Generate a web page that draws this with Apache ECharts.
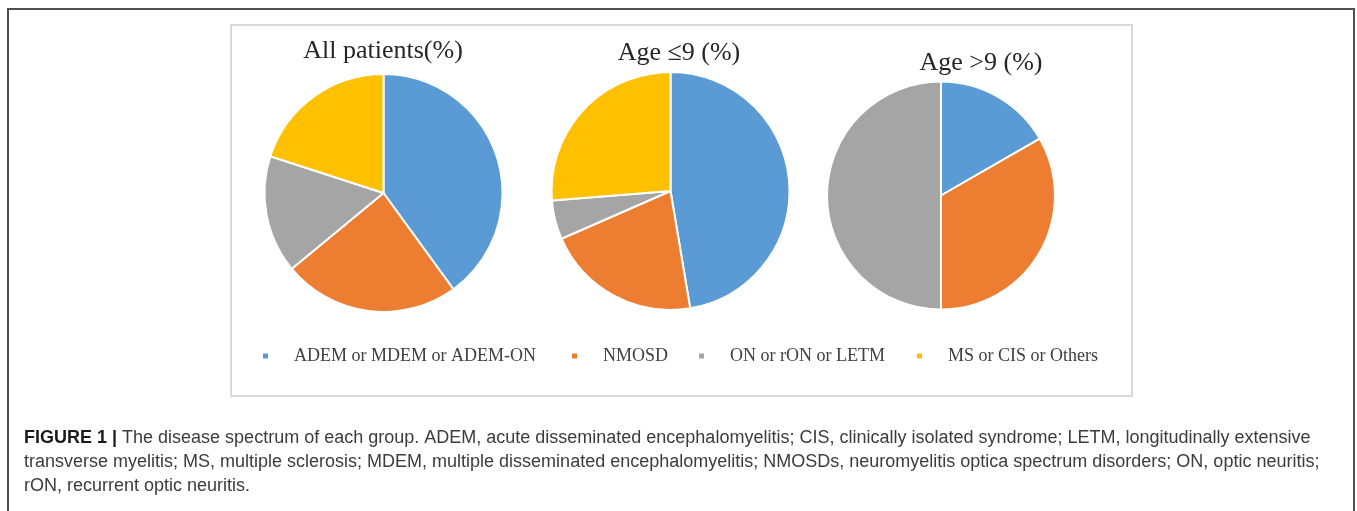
<!DOCTYPE html>
<html>
<head>
<meta charset="utf-8">
<script src="https://cdn.jsdelivr.net/npm/echarts@6/dist/echarts.min.js"></script>
<style>
  html, body { margin: 0; padding: 0; background: #fff; }
  #chart { width: 1357px; height: 511px; }
</style>
</head>
<body>
<div id="chart"></div>
<script>
// Disease categories and the share (%) of each group
const categories = ['ADEM or MDEM or ADEM-ON', 'NMOSD', 'ON or rON or LETM', 'MS or CIS or Others'];
const allPatients = [40.0, 24.0, 16.0, 20.0];
const ageUpTo9 = [47.4, 21.1, 5.3, 26.3];
const ageOver9 = [16.7, 33.3, 50.0, 0];
const groupTitles = ['All patients(%)', 'Age \u22649 (%)', 'Age >9 (%)'];
const palette = ['#5B9BD5', '#ED7D31', '#A5A5A5', '#FFC000'];

const captionLines = [
  '{b|FIGURE 1 |} The disease spectrum of each group. ADEM, acute disseminated encephalomyelitis; CIS, clinically isolated syndrome; LETM, longitudinally extensive',
  'transverse myelitis; MS, multiple sclerosis; MDEM, multiple disseminated encephalomyelitis; NMOSDs, neuromyelitis optica spectrum disorders; ON, optic neuritis;',
  'rON, recurrent optic neuritis.'
];

const serif = '"Liberation Serif", "DejaVu Serif", serif';
const sans = '"Liberation Sans", Arial, sans-serif';

function pieSeries(values, center, radius) {
  return {
    type: 'pie',
    center: center,
    radius: radius,
    startAngle: 90,
    clockwise: true,
    label: { show: false },
    labelLine: { show: false },
    emphasis: { disabled: true },
    itemStyle: { borderColor: '#fff', borderWidth: 2 },
    data: categories.map((c, i) => ({ name: c, value: values[i] }))
  };
}

const pieLayout = [
  { center: [383.5, 193], r: 119 },
  { center: [670.5, 191], r: 119 },
  { center: [941, 195.5], r: 114 }
];
const titlePos = [
  { x: 383, y: 51 },
  { x: 679, y: 53 },
  { x: 981, y: 63 }
];
const legendLeft = [261, 570, 697, 915];

const chart = echarts.init(document.getElementById('chart'), null, { renderer: 'canvas' });

const option = {
  animation: false,
  color: palette,
  title: groupTitles.map((t, i) => ({
    text: t,
    left: titlePos[i].x,
    top: titlePos[i].y,
    textAlign: 'center',
    textVerticalAlign: 'middle',
    padding: 0,
    textStyle: { fontFamily: serif, fontSize: 26, fontWeight: 'normal', color: '#262626' }
  })).concat([{
    text: captionLines.join('\n'),
    left: 24,
    top: 426,
    padding: 0,
    textStyle: {
      fontFamily: sans,
      fontSize: 18,
      fontWeight: 'normal',
      color: '#3c3c3c',
      lineHeight: 24,
      rich: {
        b: { fontFamily: sans, fontSize: 18, fontWeight: 'bold', color: '#1a1a1a', lineHeight: 24 }
      }
    }
  }]),
  legend: categories.map((c, i) => ({
    data: [c],
    left: legendLeft[i],
    top: 347,
    padding: 0,
    icon: 'rect',
    itemWidth: 7,
    itemHeight: 7,
    selectedMode: false,
    textStyle: { fontFamily: serif, fontSize: 18, color: '#404040', padding: [0, 0, 0, 20] }
  })),
  series: [
    pieSeries(allPatients, pieLayout[0].center, pieLayout[0].r),
    pieSeries(ageUpTo9, pieLayout[1].center, pieLayout[1].r),
    pieSeries(ageOver9, pieLayout[2].center, pieLayout[2].r)
  ],
  graphic: [
    {
      type: 'rect',
      shape: { x: 8, y: 9, width: 1346, height: 540 },
      style: { fill: 'none', stroke: '#505050', lineWidth: 2 },
      silent: true
    },
    {
      type: 'rect',
      shape: { x: 231, y: 25, width: 901, height: 371 },
      style: { fill: 'none', stroke: '#d9d9d9', lineWidth: 2 },
      silent: true
    }
  ]
};

chart.setOption(option);
</script>
</body>
</html>
